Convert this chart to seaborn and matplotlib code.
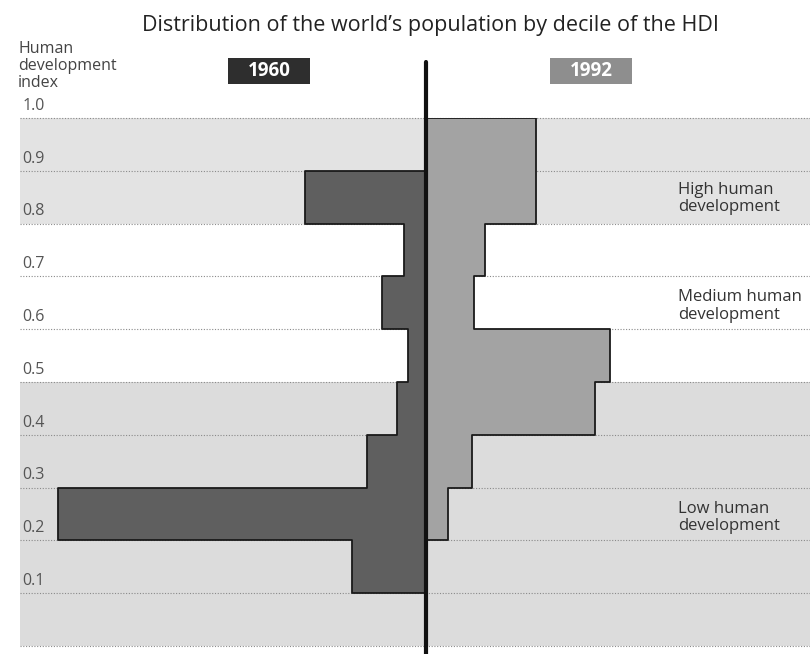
import numpy as np
import seaborn as sns
import matplotlib.pyplot as plt
from matplotlib.patches import Rectangle

# HDI decile edges and share of world population (%) in each decile
hdi_edges = [0.0, 0.1, 0.2, 0.3, 0.4, 0.5, 0.6, 0.7, 0.8, 0.9, 1.0]
pop_1960 = [0, 10, 50, 8, 4, 2.5, 6, 3, 16.5, 0]
pop_1992 = [0, 0, 3, 6.2, 23, 25, 6.5, 8, 15, 15]

tick_values = [0.1, 0.2, 0.3, 0.4, 0.5, 0.6, 0.7, 0.8, 0.9, 1.0]
tick_labels = ['0.1', '0.2', '0.3', '0.4', '0.5', '0.6', '0.7', '0.8', '0.9', '1.0']

# development bands: (low, high, colour)
band_names = ['High human\ndevelopment', 'Medium human\ndevelopment', 'Low human\ndevelopment']
band_low = [0.8, 0.5, 0.0]
band_high = [1.0, 0.8, 0.5]
band_colors = ['#e3e3e3', '#ffffff', '#dcdcdc']
band_label_y = [0.847, 0.644, 0.244]

years = ['1960', '1992']
year_colors = ['#5f5f5f', '#a3a3a3']
year_box_colors = ['#2e2e2e', '#8e8e8e']

sns.set_theme(style='white')
plt.rcParams['font.family'] = ['Open Sans', 'DejaVu Sans']

fig = plt.figure(figsize=(8.1, 6.54), dpi=100)
ax = fig.add_axes([20 / 810, 0.0, 790 / 810, 1 - 118 / 654])

# background bands
for lo, hi, c in zip(band_low, band_high, band_colors):
    ax.axhspan(lo, hi, color=c, lw=0, zorder=0)

# dotted gridlines
for v in [0.0] + tick_values:
    ax.axhline(v, color='#8a8a8a', lw=0.8, ls=(0, (1, 1.5)), zorder=1, clip_on=False)

# population histograms (1960 to the left, 1992 to the right)
mids = [(a + b) / 2 for a, b in zip(hdi_edges[:-1], hdi_edges[1:])]
sns.histplot(y=mids, weights=[-v for v in pop_1960], bins=hdi_edges, element='step',
             fill=True, color=year_colors[0], alpha=1, edgecolor='#1a1a1a', linewidth=1.3, ax=ax, zorder=3)
sns.histplot(y=mids, weights=pop_1992, bins=hdi_edges, element='step',
             fill=True, color=year_colors[1], alpha=1, edgecolor='#1a1a1a', linewidth=1.3, ax=ax, zorder=3)
ax.set_xlim(-55.2, 52.2)
ax.set_ylim(-0.015, 1.0)
ax.axis('off')

# centre axis
ax.plot([0, 0], [-0.02, 1.106], color='#111111', lw=3, clip_on=False, zorder=5)

# y tick labels
for v, lab in zip(tick_values, tick_labels):
    ax.text(-54.9, v + 0.008, lab, ha='left', va='bottom', fontsize=11.5, color='#555555')

# band labels
for name, y in zip(band_names, band_label_y):
    ax.text(34.3, y, name, ha='left', va='center', fontsize=12, color='#333333', linespacing=1.1)

# title and axis caption
fig.text(430 / 810, 1 - 26 / 654, "Distribution of the world\u2019s population by decile of the HDI",
         ha='center', va='center', fontsize=15.5, color='#222222')
fig.text(18 / 810, 1 - 66 / 654, 'Human\ndevelopment\nindex', ha='left', va='center',
         fontsize=11.5, color='#444444', linespacing=1.05)

# year boxes
for yr, bc, cx in zip(years, year_box_colors, [269, 591]):
    fig.add_artist(Rectangle(((cx - 41) / 810, 1 - 84 / 654), 82 / 810, 26 / 654,
                             transform=fig.transFigure, color=bc, lw=0))
    fig.text(cx / 810, 1 - 71 / 654, yr, ha='center', va='center', fontsize=13.5,
             fontweight='bold', color='white')

fig.savefig('out.png', dpi=100)
